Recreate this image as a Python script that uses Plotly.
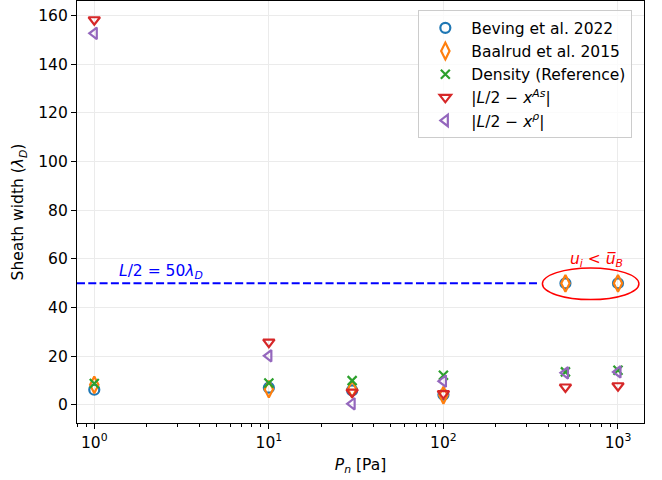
import math
import plotly.graph_objects as go

# ---- data ----
pressure = [1, 10, 30, 100, 500, 1000]
beving = [6.3, 7.1, 6.0, 4.2, 50.0, 50.0]
baalrud = [8.3, 6.5, 6.5, 4.0, 50.0, 50.0]
density = [8.8, 9.0, 10.0, 12.2, 13.6, 14.3]
x_as = [158.3, 25.8, 5.3, 4.7, 7.4, 7.9]
x_rho = [152.7, 20.2, 0.5, 9.8, 13.2, 13.6]

series_names = [
    "Beving et al. 2022",
    "Baalrud et al. 2015",
    "Density (Reference)",
    "|<i>L</i>/2 − <i>x</i><sup><i>As</i></sup>|",
    "|<i>L</i>/2 − <i>x</i><sup><i>ρ</i></sup>|",
]
x_tick_vals = [1, 10, 100, 1000]
x_tick_text = ["10<sup>0</sup>", "10<sup>1</sup>", "10<sup>2</sup>", "10<sup>3</sup>"]
y_tick_vals = [0, 20, 40, 60, 80, 100, 120, 140, 160]
half_length = 50

FONT = "DejaVu Sans"
FS = 15.5

colors = ["#1f77b4", "#ff7f0e", "#2ca02c", "#d62728", "#9467bd"]
symbols = ["circle-open", "diamond-tall-open", "x-thin-open", "triangle-down-open", "triangle-left-open"]
sizes = [10, 12, 9, 10, 10]

fig = go.Figure()
for name, ys, c, s, sz in zip(series_names, [beving, baalrud, density, x_as, x_rho], colors, symbols, sizes):
    fig.add_trace(go.Scatter(
        x=pressure, y=ys, mode="markers", name=name,
        marker=dict(symbol=s, size=sz, color=c, line=dict(color=c, width=2.2)),
    ))

# dashed line L/2
fig.add_trace(go.Scatter(
    x=[0.796, 350], y=[half_length, half_length], mode="lines", showlegend=False,
    line=dict(color="blue", width=2, dash="8px,3.3px"), hoverinfo="skip",
))

fig.add_shape(type="circle", xref="x", yref="y",
              x0=369, x1=1318, y0=43.3, y1=56.3,
              line=dict(color="red", width=1.5))

fig.add_annotation(x=math.log10(1.354), y=54.7, xref="x", yref="y",
                   text="<i>L</i>/2 = 50<i>λ</i><sub><i>D</i></sub>", showarrow=False,
                   xanchor="left", yanchor="middle",
                   font=dict(family=FONT, size=FS, color="blue"))
fig.add_annotation(x=math.log10(755), y=59.6, xref="x", yref="y",
                   text="<i>u</i><sub><i>i</i></sub> &lt; <i>u̅</i><sub><i>B</i></sub>", showarrow=False,
                   xanchor="center", yanchor="middle",
                   font=dict(family=FONT, size=FS, color="red"))

minor_vals = [m * 10 ** e for e in range(-1, 4) for m in range(2, 10)]

fig.update_layout(
    width=662, height=480,
    margin=dict(l=77, r=18, t=1, b=57),
    plot_bgcolor="white", paper_bgcolor="white",
    font=dict(family=FONT, size=FS, color="black"),
    showlegend=True,
    legend=dict(x=0.602, y=0.978, xanchor="left", yanchor="top",
                bgcolor="rgba(255,255,255,0.8)", bordercolor="#cccccc", borderwidth=1,
                font=dict(family=FONT, size=FS), itemwidth=42),
    xaxis=dict(
        type="log", range=[-0.099, 3.149],
        tickmode="array", tickvals=x_tick_vals, ticktext=x_tick_text,
        ticks="outside", ticklen=5, tickwidth=1.1, tickcolor="black",
        showline=True, linecolor="black", linewidth=1.1, mirror=True,
        showgrid=True, gridcolor="#ebebeb", gridwidth=1, zeroline=False,
        minor=dict(tickmode="array", tickvals=minor_vals, ticks="outside", ticklen=3,
                   tickwidth=0.8, tickcolor="black", showgrid=False),
        title=dict(text="<i>P</i><sub><i>n</i></sub> [Pa]", font=dict(size=FS), standoff=8),
    ),
    yaxis=dict(
        range=[-7.4, 166.0],
        tickmode="array", tickvals=y_tick_vals,
        ticks="outside", ticklen=5, tickwidth=1.1, tickcolor="black",
        showline=True, linecolor="black", linewidth=1.1, mirror=True,
        showgrid=True, gridcolor="#ebebeb", gridwidth=1, zeroline=False,
        title=dict(text="Sheath width (<i>λ</i><sub><i>D</i></sub>)", font=dict(size=FS), standoff=10),
    ),
)

fig.write_html("out.html", config={"displayModeBar": False},
               post_script="document.body.style.margin='0';")
